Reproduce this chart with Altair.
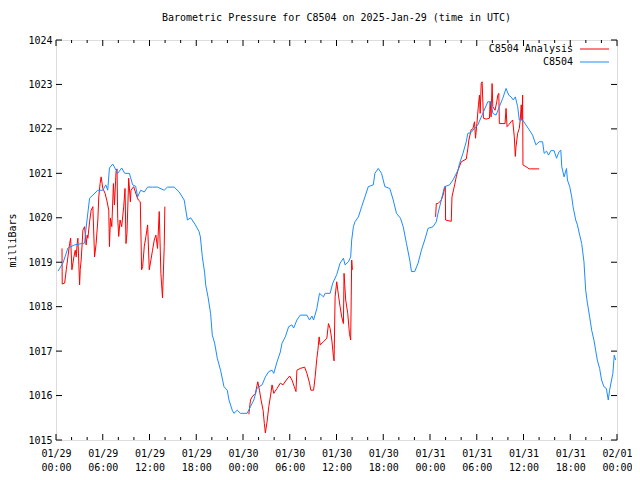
import altair as alt
import pandas as pd

FONT = "DejaVu Sans Mono"
RED = "#ff0000"
BLUE = "#1a8cff"

# hours since 2025-01-29 00:00 UTC, pressure in millibars
blue_h = [0.26, 0.89, 1.53, 2.39, 3.67, 3.83, 4.31, 4.73, 5.37, 6.01, 6.39, 6.64, 6.86, 7.28, 7.92,
          8.43, 8.82, 9.42, 9.84, 10.22, 10.48, 10.86, 11.33, 11.76, 12.39, 13.03, 13.89, 14.31,
          15.17, 15.81, 16.45, 16.87, 17.29, 17.89, 18.36, 18.53, 18.78, 19.08, 19.21, 19.51,
          19.84, 20.06, 20.36, 20.70, 21.12, 21.56, 21.98, 22.20, 22.62, 22.83, 23.26, 23.68,
          24.53, 24.96, 25.39, 25.81, 26.45, 26.87, 27.31, 27.73, 27.95, 28.37, 28.79, 29.01,
          29.43, 29.86, 30.28, 30.50, 30.92, 31.34, 32.20, 32.54, 32.84, 33.06, 33.48, 33.82,
          34.33, 34.54, 35.18, 35.52, 36.03, 36.46, 36.89, 37.10, 37.53, 37.82, 37.95, 38.17,
          38.37, 38.81, 39.23, 39.65, 40.08, 40.72, 40.93, 41.36, 41.78, 42.21, 42.84, 43.28,
          43.70, 44.21, 44.56, 44.98, 45.40, 45.62, 46.04, 46.47, 46.90, 47.32, 47.75, 48.39,
          48.81, 49.03, 49.45, 49.87, 50.51, 50.95, 51.59, 51.79, 52.23, 52.65, 52.86, 53.28,
          53.71, 54.14, 54.78, 55.42, 55.84, 56.06, 56.48, 56.90, 57.34, 57.76, 58.10, 58.40,
          58.69, 58.95, 59.25, 59.46, 59.89, 60.31, 60.73, 61.17, 61.59, 62.01, 62.45, 62.65,
          62.96, 63.21, 63.51, 63.93, 64.24, 64.57, 64.79, 64.91, 65.21, 65.52, 65.64, 65.93,
          66.19, 66.36, 66.70, 66.92, 67.21, 67.47, 67.76, 67.98, 68.20, 68.49, 68.75, 69.04,
          69.26, 69.47, 69.77, 70.02, 70.32, 70.63, 70.88, 71.05, 71.30, 71.47, 71.65, 71.82]
blue_p = [1018.80, 1018.98, 1019.32, 1019.39, 1019.43, 1019.72, 1020.44, 1020.51, 1020.62, 1020.62,
          1020.74, 1020.62, 1021.12, 1021.21, 1021.00, 1021.12, 1021.00, 1021.00, 1020.74, 1020.71,
          1020.47, 1020.62, 1020.58, 1020.69, 1020.69, 1020.69, 1020.62, 1020.69, 1020.69, 1020.58,
          1020.40, 1019.95, 1020.00, 1019.84, 1019.69, 1019.57, 1019.12, 1018.76, 1018.49, 1018.22,
          1017.85, 1017.36, 1017.18, 1016.84, 1016.57, 1016.20, 1016.12, 1015.90, 1015.67, 1015.60,
          1015.67, 1015.60, 1015.60, 1015.75, 1015.90, 1016.17, 1016.24, 1016.42, 1016.54, 1016.57,
          1016.50, 1016.76, 1016.98, 1017.18, 1017.32, 1017.55, 1017.59, 1017.52, 1017.70, 1017.81,
          1017.81, 1017.70, 1017.79, 1017.70, 1017.96, 1018.30, 1018.22, 1018.30, 1018.30, 1018.53,
          1018.72, 1018.98, 1019.09, 1018.94, 1019.01, 1019.12, 1019.50, 1019.80, 1019.91, 1020.02,
          1020.25, 1020.47, 1020.70, 1020.74, 1021.00, 1021.11, 1021.00, 1020.70, 1020.66, 1020.40,
          1020.10, 1019.99, 1019.80, 1019.42, 1019.05, 1018.79, 1018.79, 1018.98, 1019.27, 1019.50,
          1019.76, 1019.80, 1019.91, 1020.10, 1020.40, 1020.70, 1020.74, 1020.85, 1021.07, 1021.22,
          1021.45, 1021.71, 1021.90, 1021.92, 1022.01, 1022.09, 1022.35, 1022.61, 1022.61, 1022.35,
          1022.31, 1022.50, 1022.69, 1022.91, 1022.76, 1022.72, 1022.65, 1022.72, 1022.50, 1022.20,
          1022.20, 1022.09, 1021.98, 1021.86, 1021.64, 1021.71, 1021.71, 1021.45, 1021.50, 1021.41,
          1021.51, 1021.51, 1021.34, 1021.49, 1021.52, 1021.15, 1020.92, 1021.11, 1020.85, 1020.70,
          1020.47, 1020.25, 1019.95, 1019.84, 1019.61, 1019.42, 1019.01, 1018.37, 1018.08, 1017.77,
          1017.47, 1017.25, 1017.02, 1016.80, 1016.61, 1016.35, 1016.20, 1016.16, 1015.90, 1016.12,
          1016.35, 1016.50, 1016.91, 1016.80]

red1_h = [0.77, 0.80, 1.11, 1.32, 1.53, 1.75, 1.88, 2.04, 2.30, 2.47, 2.59, 2.72, 2.81, 3.03, 3.11,
          3.23, 3.36, 3.45, 3.67, 3.87, 4.00, 4.09, 4.31, 4.51, 4.73, 4.95, 5.15, 5.37, 5.49, 5.66,
          5.79, 6.01, 6.30, 6.56, 6.77, 6.86, 6.99, 7.16, 7.37, 7.50, 7.71, 7.83, 7.92, 8.05, 8.22,
          8.43, 8.69, 8.86, 8.98, 9.11, 9.33, 9.55, 9.62, 9.97, 10.39, 10.57, 10.82, 10.99, 11.12,
          11.33, 11.54, 11.76, 11.97, 12.18, 12.39, 12.61, 12.82, 13.03, 13.25, 13.46, 13.67,
          13.89, 13.97]
red1_p = [1019.31, 1018.51, 1018.53, 1018.83, 1019.12, 1019.42, 1019.54, 1018.83, 1019.12, 1019.27,
          1019.12, 1019.42, 1019.54, 1018.49, 1018.83, 1019.05, 1019.42, 1019.72, 1019.80, 1019.39,
          1019.61, 1019.54, 1019.91, 1020.17, 1020.25, 1019.12, 1019.42, 1019.95, 1020.47, 1020.77,
          1020.92, 1020.66, 1020.55, 1020.36, 1020.17, 1019.35, 1019.99, 1019.80, 1020.77, 1020.29,
          1021.04, 1021.10, 1019.99, 1019.58, 1019.95, 1019.80, 1020.25, 1020.66, 1019.42, 1019.65,
          1020.89, 1020.36, 1020.62, 1020.70, 1020.47, 1020.40, 1020.36, 1018.83, 1018.90, 1019.35,
          1019.58, 1019.84, 1018.83, 1019.05, 1019.27, 1019.50, 1019.61, 1019.31, 1020.14, 1018.75,
          1018.20, 1019.35, 1020.25]

red2_h = [24.75, 24.96, 25.17, 25.59, 25.90, 26.11, 26.32, 26.58, 26.74, 26.87, 27.09, 27.31, 27.51,
          27.73, 27.95, 28.37, 28.79, 29.13, 29.56, 29.99, 30.28, 30.58, 30.80, 30.92, 31.34, 31.91,
          32.20, 32.54, 32.71, 33.06, 33.26, 33.48, 33.61, 33.77, 33.90, 34.33, 34.76, 34.97, 35.18,
          35.40, 35.61, 35.69, 35.82, 36.03, 36.25, 36.46, 36.67, 36.89, 36.97, 37.18, 37.44, 37.66,
          37.82, 37.95, 38.04]
red2_p = [1015.58, 1015.90, 1015.97, 1016.05, 1016.31, 1016.12, 1015.90, 1015.67, 1015.37, 1015.16,
          1015.41, 1015.75, 1015.97, 1016.24, 1016.05, 1016.16, 1016.28, 1016.24, 1016.35, 1016.44,
          1016.35, 1016.20, 1016.09, 1016.57, 1016.61, 1016.64, 1016.50, 1016.28, 1016.12, 1016.12,
          1016.42, 1016.84, 1017.02, 1017.32, 1017.14, 1017.21, 1017.29, 1017.62, 1017.51, 1017.25,
          1016.87, 1016.78, 1018.22, 1018.56, 1018.26, 1018.00, 1017.77, 1017.62, 1018.75, 1018.15,
          1017.85, 1017.40, 1017.25, 1019.05, 1018.83]

red3_h = [48.72, 48.81, 49.03, 49.24, 49.45, 49.66, 49.87, 49.96, 50.00, 50.73, 50.82, 51.16, 51.37,
          51.59, 52.01, 52.65, 52.86, 52.99, 53.28, 53.50, 53.71, 53.84, 54.02, 54.22, 54.35, 54.44,
          54.57, 54.69, 54.86, 55.21, 55.63, 55.72, 55.84, 55.97, 56.06, 56.35, 56.57, 56.70, 56.83,
          56.90, 57.63, 57.76, 57.89, 58.14, 58.40, 58.61, 58.82, 58.95, 59.04, 59.25, 59.46, 59.58,
          59.71, 59.80, 59.89, 59.93, 60.31, 60.73, 62.01]
red3_p = [1020.02, 1020.32, 1020.32, 1020.36, 1020.40, 1020.50, 1020.66, 1020.70, 1019.95, 1019.92,
          1020.47, 1020.74, 1020.92, 1021.07, 1021.26, 1021.32, 1021.56, 1021.75, 1021.98, 1022.00,
          1022.16, 1021.79, 1022.12, 1022.54, 1022.76, 1022.35, 1023.02, 1023.06, 1022.24, 1022.22,
          1022.24, 1022.61, 1022.27, 1023.02, 1022.50, 1022.42, 1022.61, 1022.76, 1022.80, 1022.12,
          1022.12, 1022.46, 1022.05, 1022.10, 1022.16, 1022.20, 1021.82, 1021.38, 1021.60, 1021.90,
          1022.01, 1022.20, 1022.54, 1022.20, 1022.76, 1021.19, 1021.15, 1021.10, 1021.10]

series_names = ["C8504 Analysis", "C8504"]
x_major = [0, 6, 12, 18, 24, 30, 36, 42, 48, 54, 60, 66, 72]
x_minor = [2, 4, 8, 10, 14, 16, 20, 22, 26, 28, 32, 34, 38, 40, 44, 46, 50, 52, 56, 58, 62, 64, 68, 70]
y_major = [1015, 1016, 1017, 1018, 1019, 1020, 1021, 1022, 1023, 1024]

W, H = 561, 400
PAD_L, PAD_T, PAD_R, PAD_B = 48, 32, 15, 40

df_blue = pd.DataFrame({"h": blue_h, "p": blue_p, "seg": 0})
df_red = pd.concat([
    pd.DataFrame({"h": red1_h, "p": red1_p, "seg": 1}),
    pd.DataFrame({"h": red2_h, "p": red2_p, "seg": 2}),
    pd.DataFrame({"h": red3_h, "p": red3_p, "seg": 3}),
], ignore_index=True)

x_scale = alt.Scale(domain=[0, 72], nice=False, zero=False)
y_scale = alt.Scale(domain=[1015, 1024], nice=False, zero=False)

label_expr = ("[datum.value >= 72 ? '02/01' : '01/' + (29 + floor(datum.value / 24)), "
              "(datum.value % 24 < 10 ? '0' : '') + (datum.value % 24) + ':00']")

x_axis = alt.Axis(values=x_major, ticks=False, tickSize=0, domain=False, grid=False,
                  labelExpr=label_expr, labelFont=FONT, labelFontSize=10, labelColor="black",
                  labelPadding=8, labelLineHeight=14, labelFlush=False, labelOverlap=False,
                  labelAngle=0, title=None)
y_axis = alt.Axis(values=y_major, ticks=False, tickSize=0, domain=False, grid=False,
                  format="d", labelFont=FONT, labelFontSize=10, labelColor="black",
                  labelPadding=4, labelFlush=False, labelOverlap=False,
                  title="milliBars", titleFont=FONT, titleFontSize=10, titleFontWeight="normal",
                  titleColor="black", titleX=-44, titleY=200, titleAngle=270,
                  titleBaseline="middle", titleAlign="center")

X = alt.X("h:Q", scale=x_scale, axis=x_axis)
Y = alt.Y("p:Q", scale=y_scale, axis=y_axis)

red_line = alt.Chart(df_red).mark_line(color=RED, strokeWidth=1).encode(x=X, y=Y, detail="seg:N")
blue_line = alt.Chart(df_blue).mark_line(color=BLUE, strokeWidth=1).encode(x=X, y=Y)


def xticks(vals, length):
    d = pd.DataFrame({"h": vals})
    base = alt.Chart(d).mark_rule(color="black", strokeWidth=1)
    bottom = base.encode(x=X, y=alt.value(H), y2=alt.value(H - length))
    top = base.encode(x=X, y=alt.value(0), y2=alt.value(length))
    return [bottom, top]


def yticks(vals, length):
    d = pd.DataFrame({"p": vals})
    base = alt.Chart(d).mark_rule(color="black", strokeWidth=1)
    left = base.encode(y=Y, x=alt.value(0), x2=alt.value(length))
    right = base.encode(y=Y, x=alt.value(W), x2=alt.value(W - length))
    return [left, right]


def legend_entry(name, color, ypos):
    d = pd.DataFrame({"name": [name]})
    txt = alt.Chart(d).mark_text(align="right", baseline="middle", font=FONT, fontSize=10,
                                 color="black").encode(
        x=alt.value(W - 44), y=alt.value(ypos), text="name:N")
    line = alt.Chart(d).mark_rule(color=color, strokeWidth=1).encode(
        x=alt.value(W - 37), x2=alt.value(W - 8), y=alt.value(ypos))
    return [txt, line]


layers = [red_line, blue_line]
layers += xticks(x_major, 6) + xticks(x_minor, 3) + yticks(y_major, 6)
layers += legend_entry(series_names[0], RED, 9) + legend_entry(series_names[1], BLUE, 22)

chart = alt.layer(*layers).properties(
    width=W, height=H,
    title=alt.TitleParams("Barometric Pressure for C8504 on 2025-Jan-29 (time in UTC)",
                          font=FONT, fontSize=10, fontWeight="normal", color="black",
                          anchor="middle", baseline="bottom", offset=5, dy=3),
    autosize=alt.AutoSizeParams(type="none"),
    padding={"left": PAD_L, "top": PAD_T, "right": PAD_R, "bottom": PAD_B},
).configure_view(stroke="black", strokeWidth=1).configure(background="white")

chart.save("out.html", embed_options={"renderer": "svg", "actions": False})
